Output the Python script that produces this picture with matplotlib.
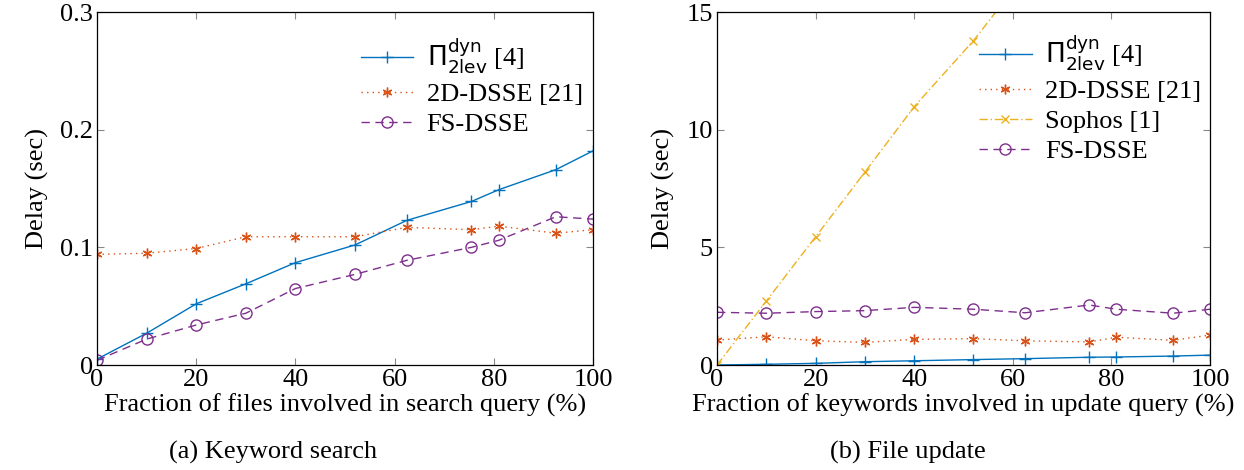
import matplotlib.pyplot as plt
import numpy as np

plt.rcParams['font.family'] = ['Liberation Serif', 'DejaVu Serif']
plt.rcParams['mathtext.fontset'] = 'dejavusans'

# fraction (%) on the x axis, same for both panels
x = [0, 10, 20, 30, 40, 52, 62.5, 75.5, 81, 92.5, 100]

# (a) keyword search delay (sec)
search_pi = [0.005, 0.027, 0.052, 0.069, 0.087, 0.102, 0.123, 0.139, 0.149, 0.166, 0.182]
search_2d = [0.094, 0.095, 0.099, 0.109, 0.109, 0.109, 0.117, 0.115, 0.118, 0.112, 0.115]
search_fs = [0.004, 0.022, 0.034, 0.044, 0.065, 0.077, 0.089, 0.100, 0.106, 0.126, 0.124]

# (b) file update delay (sec)
update_pi = [0.0, 0.03, 0.07, 0.14, 0.18, 0.23, 0.27, 0.33, 0.34, 0.38, 0.42]
update_2d = [1.06, 1.2, 1.03, 0.96, 1.09, 1.12, 1.03, 0.98, 1.18, 1.05, 1.27]
update_sophos = [0.0, 2.72, 5.45, 8.2, 10.98, 13.78, 16.6]
update_fs = [2.24, 2.2, 2.27, 2.31, 2.45, 2.37, 2.22, 2.55, 2.37, 2.2, 2.37]

blue = '#0072BD'
orange = '#D95319'
yellow = '#EDB120'
purple = '#7E2F8E'
pi_label = r'$\Pi^{\mathsf{dyn}}_{\mathsf{2lev}}$ [4]'
asterisk = (6, 2, 0)

fs = 19
fig = plt.figure(figsize=(12.44, 4.70), dpi=100)
ax1 = fig.add_axes([0.078, 0.2234, 0.3987, 0.751])
ax2 = fig.add_axes([0.5764, 0.2234, 0.3963, 0.751])

ax1.plot(x, search_pi, color=blue, lw=1, marker='+', ms=8, mew=1, label=pi_label)
ax1.plot(x, search_2d, color=orange, lw=1, ls=(0, (1, 3)), marker=asterisk, ms=7, mew=1, label='2D-DSSE [21]')
ax1.plot(x, search_fs, color=purple, lw=1, ls=(0, (6, 4)), marker='o', ms=8, mfc='none', mew=1, label='FS-DSSE')
ax1.set_ylim(0, 0.3)
ax1.set_yticks([0, 0.1, 0.2, 0.3])
ax1.set_yticklabels(['0', '0.1', '0.2', '0.3'])
ax1.set_xlabel('Fraction of files involved in search query (%)', fontsize=fs, labelpad=2)
ax1.legend(loc='upper left', bbox_to_anchor=(0.51, 0.96), frameon=False, fontsize=fs,
           handlelength=2.0, handletextpad=0.5, labelspacing=0.25, borderaxespad=0)

ax2.plot(x, update_pi, color=blue, lw=1, marker='+', ms=8, mew=1, label=pi_label)
ax2.plot(x, update_2d, color=orange, lw=1, ls=(0, (1, 3)), marker=asterisk, ms=7, mew=1, label='2D-DSSE [21]')
ax2.plot(x[:len(update_sophos)], update_sophos, color=yellow, lw=1, ls=(0, (6, 2, 1, 2)), marker='x', ms=6, mew=1,
         label='Sophos [1]')
ax2.plot(x, update_fs, color=purple, lw=1, ls=(0, (6, 4)), marker='o', ms=8, mfc='none', mew=1, label='FS-DSSE')
ax2.set_ylim(0, 15)
ax2.set_yticks([0, 5, 10, 15])
ax2.set_xlabel('Fraction of keywords involved in update query (%)', fontsize=fs, labelpad=2)
ax2.legend(loc='upper left', bbox_to_anchor=(0.51, 0.97), frameon=False, fontsize=fs,
           handlelength=2.0, handletextpad=0.5, labelspacing=0.25, borderaxespad=0)

for ax in (ax1, ax2):
    ax.set_xlim(0, 100)
    ax.set_xticks([0, 20, 40, 60, 80, 100])
    ax.set_ylabel('Delay (sec)', fontsize=fs, labelpad=8)
    ax.tick_params(direction='in', length=5, color='#888888', labelsize=fs,
                   top=True, right=True, pad=3)
    for s in ax.spines.values():
        s.set_linewidth(0.9)

fig.text(0.2197, 0.025, '(a) Keyword search', ha='center', fontsize=fs)
fig.text(0.7298, 0.025, '(b) File update', ha='center', fontsize=fs)

plt.savefig('out.png')
